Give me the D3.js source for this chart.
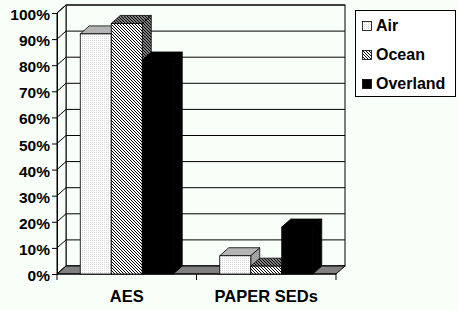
<!DOCTYPE html>
<html>
<head>
<meta charset="utf-8">
<script src="https://cdn.jsdelivr.net/npm/d3@7"></script>
<style>
body{margin:0;background:#f8fff8;}
text{font-family:Arial,"Liberation Sans",sans-serif;font-weight:bold;}
</style>
</head>
<body>
<div id="viz-container"></div>
<script>
// data
let categories=["AES","PAPER SEDs"];
let series=["Air","Ocean","Overland"];
let airValues=[0.92,0.07];
let oceanValues=[0.96,0.03];
let overlandValues=[0.82,0.18];
let yTicks=[0,0.1,0.2,0.3,0.4,0.5,0.6,0.7,0.8,0.9,1];

let viz=d3.select("#viz-container")
 .append("svg")
   .attr("width",458)
   .attr("height",310)
   .style("background","#f8fff8");

// depth offset of the 3d box
let dx=9, dy=-8;
let plotLeft=57, plotRight=336, plotBottom=274, plotTop=13;

let y=d3.scaleLinear().domain([0,1]).range([plotBottom,plotTop]);
let x=d3.scaleBand().domain(categories).range([plotLeft,plotRight]);
let bw=x.bandwidth();
let x1=d3.scaleBand().domain(series).range([bw/6,bw*5/6]);

// patterns
let defs=viz.append("defs");
let dots=defs.append("pattern").attr("id","dots").attr("patternUnits","userSpaceOnUse").attr("width",2).attr("height",2);
dots.append("rect").attr("width",2).attr("height",2).attr("fill","#ffffff");
dots.append("rect").attr("width",1).attr("height",1).attr("fill","#d8d8d8");

let dotsDark=defs.append("pattern").attr("id","dotsDark").attr("patternUnits","userSpaceOnUse").attr("width",2).attr("height",2);
dotsDark.append("rect").attr("width",2).attr("height",2).attr("fill","#a8a8a8");
dotsDark.append("rect").attr("width",1).attr("height",1).attr("fill","#909090");

function hatch(id,bg,fg){
  let p=defs.append("pattern").attr("id",id).attr("patternUnits","userSpaceOnUse").attr("width",3).attr("height",3);
  p.append("rect").attr("width",3).attr("height",3).attr("fill",bg);
  p.append("rect").attr("x",0).attr("y",0).attr("width",1).attr("height",1).attr("fill",fg);
  p.append("rect").attr("x",1).attr("y",1).attr("width",1).attr("height",1).attr("fill",fg);
  p.append("rect").attr("x",2).attr("y",2).attr("width",1).attr("height",1).attr("fill",fg);
}
hatch("hatch","#ffffff","#000000");
hatch("hatchDark","#808080","#000000");

let fills={
  Air:{front:"url(#dots)",top:"#b4b4b4",side:"url(#dotsDark)"},
  Ocean:{front:"url(#hatch)",top:"url(#hatchDark)",side:"url(#hatchDark)"},
  Overland:{front:"#000000",top:"#000000",side:"#000000"}
};

// back wall
viz.append("rect")
  .attr("x",plotLeft+dx).attr("y",plotTop+dy)
  .attr("width",plotRight-plotLeft).attr("height",plotBottom-plotTop)
  .attr("fill","#f8fff8").attr("stroke","#000").attr("stroke-width",1);

// left wall
viz.append("polygon")
  .attr("points",[[plotLeft,plotTop],[plotLeft+dx,plotTop+dy],[plotLeft+dx,plotBottom+dy],[plotLeft,plotBottom]].join(" "))
  .attr("fill","#f8fff8").attr("stroke","#000");

// gridlines
viz.selectAll(".grid").data(yTicks).enter()
  .append("line")
    .attr("class","grid")
    .attr("x1",plotLeft+dx).attr("x2",plotRight+dx)
    .attr("y1",d=>y(d)+dy).attr("y2",d=>y(d)+dy)
    .attr("stroke","#000").attr("stroke-width",1);
viz.selectAll(".sidegrid").data(yTicks).enter()
  .append("line")
    .attr("class","sidegrid")
    .attr("x1",plotLeft).attr("x2",plotLeft+dx)
    .attr("y1",d=>y(d)).attr("y2",d=>y(d)+dy)
    .attr("stroke","#000").attr("stroke-width",1);

// floor
viz.append("polygon")
  .attr("points",[[plotLeft,plotBottom],[plotRight,plotBottom],[plotRight+dx,plotBottom+dy],[plotLeft+dx,plotBottom+dy]].join(" "))
  .attr("fill","#808080").attr("stroke","#000");

// y axis
let yAxis=d3.axisLeft(y).tickValues(yTicks).tickFormat(d3.format(".0%")).tickSize(5).tickPadding(2);
let ya=viz.append("g").attr("transform","translate("+plotLeft+",0)").call(yAxis);
ya.select(".domain").attr("stroke","#000");
ya.selectAll("text").attr("font-size",15.5).attr("fill","#000").attr("dy","0.42em");
ya.selectAll("line").attr("stroke","#000");

// x axis
let xa=viz.append("g").attr("transform","translate(0,"+plotBottom+")");
xa.append("line").attr("x1",plotLeft).attr("x2",plotRight).attr("stroke","#000");
let xTicks=[plotLeft].concat(categories.map(c=>x(c)+bw));
xa.selectAll(".xt").data(xTicks).enter()
  .append("line").attr("class","xt")
    .attr("x1",d=>d).attr("x2",d=>d).attr("y1",0).attr("y2",6)
    .attr("stroke","#000");
xa.selectAll(".xl").data(categories).enter()
  .append("text").attr("class","xl")
    .text(d=>d)
    .attr("x",d=>x(d)+bw/2)
    .attr("y",28)
    .attr("text-anchor","middle")
    .attr("font-size",16.5);

// bars
let barData=[];
categories.forEach(function(c,i){
  barData.push({cat:c,s:"Air",v:airValues[i]});
  barData.push({cat:c,s:"Ocean",v:oceanValues[i]});
  barData.push({cat:c,s:"Overland",v:overlandValues[i]});
});

let w=x1.bandwidth();
let bars=viz.selectAll(".bar").data(barData).enter().append("g").attr("class","bar");

bars.append("polygon")
  .attr("points",function(d){
    let x0=x(d.cat)+x1(d.s), yt=y(d.v);
    return [[x0+w,yt],[x0+w+dx,yt+dy],[x0+w+dx,y(0)+dy],[x0+w,y(0)]].join(" ");
  })
  .attr("fill",d=>fills[d.s].side).attr("stroke","#000").attr("stroke-width",0.8);

bars.append("polygon")
  .attr("points",function(d){
    let x0=x(d.cat)+x1(d.s), yt=y(d.v);
    return [[x0,yt],[x0+w,yt],[x0+w+dx,yt+dy],[x0+dx,yt+dy]].join(" ");
  })
  .attr("fill",d=>fills[d.s].top).attr("stroke","#000").attr("stroke-width",0.8);

bars.append("rect")
  .attr("x",d=>x(d.cat)+x1(d.s))
  .attr("y",d=>y(d.v))
  .attr("width",w)
  .attr("height",d=>y(0)-y(d.v))
  .attr("fill",d=>fills[d.s].front).attr("stroke","#000").attr("stroke-width",0.8);

// legend
let lg=viz.append("g");
lg.append("rect").attr("x",355.5).attr("y",10.5).attr("width",100).attr("height",86)
  .attr("fill","#ffffff").attr("stroke","#000");
lg.selectAll(".sw").data(series).enter()
  .append("rect").attr("class","sw")
    .attr("x",362.5).attr("y",(d,i)=>21.5+i*29)
    .attr("width",9).attr("height",9)
    .attr("fill",d=>fills[d].front).attr("stroke","#000").attr("stroke-width",0.8);
lg.selectAll(".lt").data(series).enter()
  .append("text").attr("class","lt")
    .text(d=>d)
    .attr("x",376).attr("y",(d,i)=>31+i*29)
    .attr("font-size",16);
</script>
</body>
</html>
